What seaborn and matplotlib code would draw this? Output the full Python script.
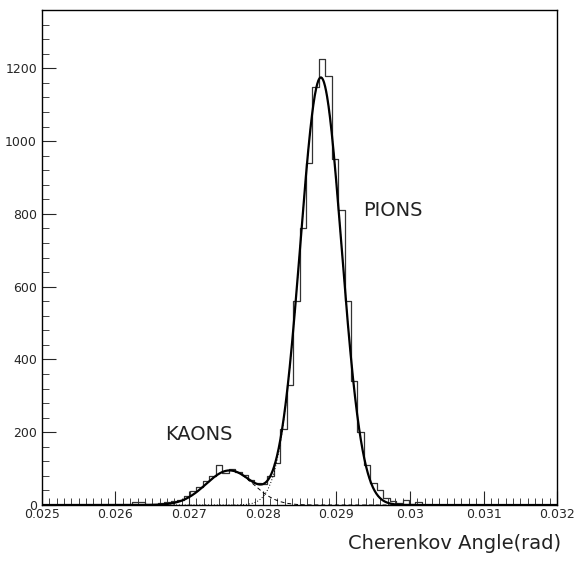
import numpy as np
import pandas as pd
import matplotlib
matplotlib.use("Agg")
import matplotlib.pyplot as plt
import seaborn as sns
from matplotlib.ticker import MultipleLocator, AutoMinorLocator

sns.set_style("ticks")
plt.rcParams['font.family'] = ['DejaVu Sans']

x_min, x_max, n_bins = 0.025, 0.032, 80
first_bin = 14
counts = [8, 8, 2, 3, 5, 8, 12, 15, 25, 38, 50, 65, 80, 110, 88, 100, 92, 82, 68, 60,
          58, 80, 115, 210, 330, 560, 760, 940, 1150, 1225, 1180, 950, 810, 560, 340,
          200, 110, 60, 40, 20, 12, 5, 15, 3, 8]
# fit parameters (amplitude, mean, sigma)
kaon_fit = (95, 0.02755, 0.00032)
pion_fit = (1175, 0.02879, 0.00028)

edges = np.linspace(x_min, x_max, n_bins + 1)
width = edges[1] - edges[0]
centers = edges[first_bin:first_bin + len(counts)] + width / 2
df = pd.DataFrame({"angle": centers, "n": counts})

fig = plt.figure(figsize=(5.81, 5.63), dpi=100)
ax = fig.add_axes([0.072, 0.103, 0.887, 0.879])
sns.histplot(data=df, x="angle", weights="n", binwidth=width, binrange=(x_min, x_max),
             element="step", fill=False, color="#333333", linewidth=0.9, ax=ax)

xs = np.linspace(x_min, x_max, 1500)
def g(p):
    return p[0] * np.exp(-(xs - p[1]) ** 2 / (2 * p[2] ** 2))
k, p = g(kaon_fit), g(pion_fit)
sns.lineplot(x=xs, y=k, ax=ax, color="black", linestyle=(0, (4, 3)), linewidth=0.7)
sns.lineplot(x=xs, y=p, ax=ax, color="black", linestyle=(0, (1, 2)), linewidth=0.7)
sns.lineplot(x=xs, y=k + p, ax=ax, color="black", linewidth=1.6)

ax.set_xlim(x_min, x_max)
ax.set_ylim(0, 1360)
ax.set_xticks(np.arange(0.025, 0.0321, 0.001))
ax.set_xticklabels(["0.025", "0.026", "0.027", "0.028", "0.029", "0.03", "0.031", "0.032"])
ax.xaxis.set_minor_locator(AutoMinorLocator(10))
ax.yaxis.set_major_locator(MultipleLocator(200))
ax.yaxis.set_minor_locator(AutoMinorLocator(5))
ax.tick_params(which="both", direction="in", top=False, right=False, labelsize=9)
ax.tick_params(axis="x", pad=2)
ax.tick_params(which="major", length=10)
ax.tick_params(which="minor", length=5)
for s in ax.spines.values():
    s.set_visible(True); s.set_linewidth(1.0); s.set_color("black")
ax.set_xlabel(""); ax.set_ylabel("")
fig.text(0.965, 0.018, "Cherenkov Angle(rad)", ha="right", va="bottom", fontsize=14, color="#222222")
ax.text(0.02936, 810, "PIONS", fontsize=14, color="#222222", va="center")
ax.text(0.02667, 195, "KAONS", fontsize=14, color="#222222", va="center")
fig.savefig("out.png", dpi=100)
